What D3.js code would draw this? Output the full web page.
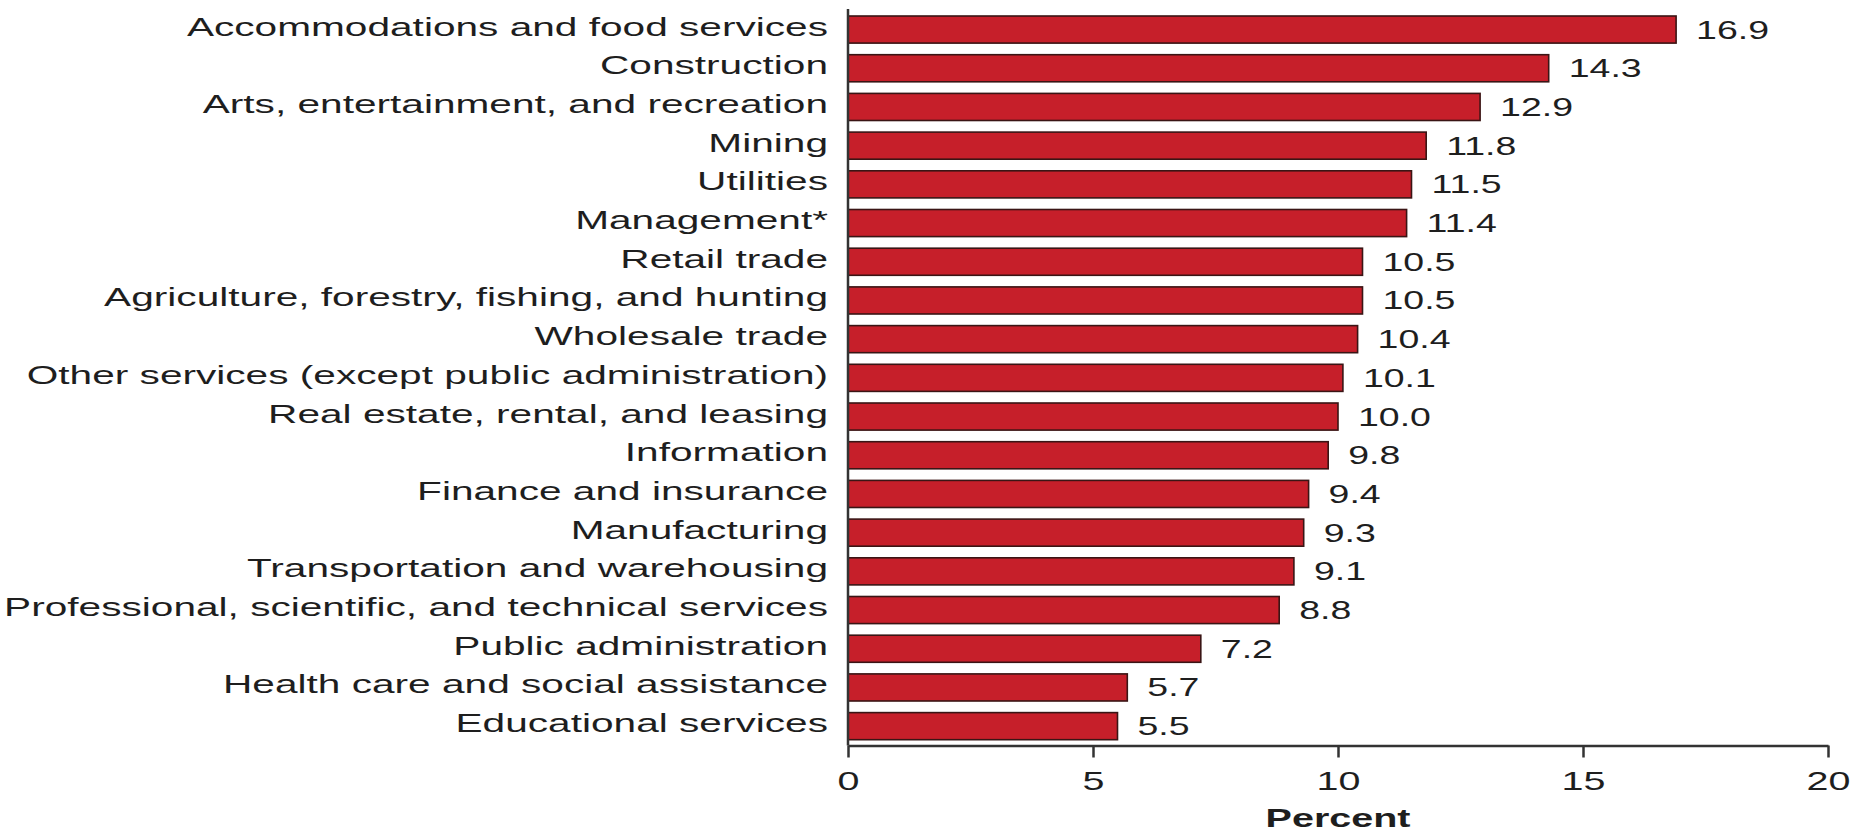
<!DOCTYPE html>
<html>
<head>
<meta charset="utf-8">
<script src="https://cdn.jsdelivr.net/npm/d3@7"></script>
<style>
  html, body { margin: 0; padding: 0; background: #ffffff; }
  svg { display: block; }
</style>
</head>
<body>
<svg id="chart" width="1873" height="832"></svg>
<script>
const categories = [
  "Accommodations and food services",
  "Construction",
  "Arts, entertainment, and recreation",
  "Mining",
  "Utilities",
  "Management*",
  "Retail trade",
  "Agriculture, forestry, fishing, and hunting",
  "Wholesale trade",
  "Other services (except public administration)",
  "Real estate, rental, and leasing",
  "Information",
  "Finance and insurance",
  "Manufacturing",
  "Transportation and warehousing",
  "Professional, scientific, and technical services",
  "Public administration",
  "Health care and social assistance",
  "Educational services"
];
const values = [16.9, 14.3, 12.9, 11.8, 11.5, 11.4, 10.5, 10.5, 10.4, 10.1, 10.0, 9.8, 9.4, 9.3, 9.1, 8.8, 7.2, 5.7, 5.5];
const xTicks = [0, 5, 10, 15, 20];
const xTitle = "Percent";

const svg = d3.select("#chart");
const FONT = "'Liberation Sans', Arial, sans-serif";
const SX = 1.58;      // horizontal stretch of the original artwork
const SXC = 1.625;
const SXV = 1.5;

const x = d3.scaleLinear().domain([0, 20]).range([848, 1828]);
const y = d3.scaleBand().domain(categories).range([10.2, 745.5])
  .paddingInner(0.3).paddingOuter(0.15);

const data = categories.map((c, i) => ({ c, v: values[i] }));

// bars
svg.append("g").selectAll("rect").data(data).join("rect")
  .attr("x", x(0))
  .attr("y", d => y(d.c))
  .attr("width", d => x(d.v) - x(0))
  .attr("height", y.bandwidth())
  .attr("fill", "#c61f2a")
  .attr("stroke", "#3a1515")
  .attr("stroke-width", 1.6);

// category labels
svg.append("g").selectAll("text").data(data).join("text")
  .attr("transform", d => `translate(${x(0) - 20},${y(d.c) + y.bandwidth() / 2 + 6}) scale(${SXC},1)`)
  .attr("text-anchor", "end")
  .attr("font-family", FONT)
  .attr("font-size", 25)
  .attr("fill", "#1e1e1e")
  .text(d => d.c);

// value labels
svg.append("g").selectAll("text").data(data).join("text")
  .attr("transform", d => `translate(${x(d.v) + 20},${y(d.c) + y.bandwidth() / 2 + 9}) scale(${SXV},1)`)
  .attr("text-anchor", "start")
  .attr("font-family", FONT)
  .attr("font-size", 25)
  .attr("fill", "#1e1e1e")
  .text(d => d.v.toFixed(1));

// vertical axis line
svg.append("line")
  .attr("x1", x(0)).attr("x2", x(0))
  .attr("y1", 9).attr("y2", 745.5)
  .attr("stroke", "#333").attr("stroke-width", 2.5);

// x axis
const xAxis = svg.append("g")
  .attr("transform", "translate(0,745.5)")
  .call(d3.axisBottom(x).tickValues(xTicks).tickFormat(d3.format("d")).tickSize(12).tickSizeOuter(0));
xAxis.select(".domain").attr("stroke", "#333").attr("stroke-width", 2.5);
xAxis.selectAll(".tick line").attr("stroke", "#333").attr("stroke-width", 2.5);
xAxis.selectAll(".tick text")
  .attr("font-family", FONT)
  .attr("font-size", 25)
  .attr("fill", "#1e1e1e")
  .attr("y", 0).attr("dy", 0)
  .attr("transform", `translate(0,44) scale(${SX},1)`);

// axis title
svg.append("text")
  .attr("transform", `translate(${x(10)},827) scale(${SX},1)`)
  .attr("text-anchor", "middle")
  .attr("font-family", FONT)
  .attr("font-size", 25)
  .attr("font-weight", "bold")
  .attr("fill", "#1e1e1e")
  .text(xTitle);
</script>
</body>
</html>
